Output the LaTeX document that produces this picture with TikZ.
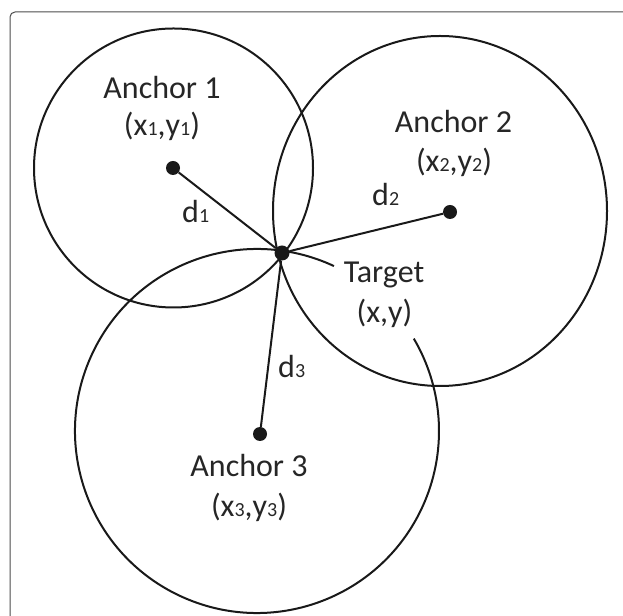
\documentclass[tikz,border=0pt]{standalone}
\usepackage{fontspec}
\setmainfont{Carlito}
\newcommand\lowdig[1]{{\fontsize{20}{20}\selectfont #1}}
\begin{document}
\begin{tikzpicture}[x=1pt,y=1pt,
  ring/.style={line width=2pt, draw=black!90},
  link/.style={line width=2pt, draw=black!90},
  dot/.style={circle, fill=black!90, inner sep=0pt, minimum size=14pt},
  lbl/.style={inner sep=0pt, anchor=base, font=\fontsize{32}{38}\selectfont, text=black!85},
  dlbl/.style={lbl, anchor=base west}]
\useasboundingbox (0,0) rectangle (623,615);
\begin{scope}
  \clip (0,0) rectangle (623,615);
  \draw[draw=black!70, line width=1pt, rounded corners=5pt] (10,-20) rectangle (650,603);
\end{scope}
% circles
\draw[ring] (173.5,447) circle[radius=139.5];
\draw[ring] (440,404) ellipse[x radius=167, y radius=175];
\draw[ring] (257,184) ++(65:182) arc[start angle=65, end angle=390.5, radius=182];
% points
\node[dot] (a1) at (173,447) {};
\node[dot] (a2) at (450,403) {};
\node[dot] (a3) at (260,181) {};
\node[dot, minimum size=15pt] (t) at (282,362) {};
% connectors
\draw[link] (a1) -- (t);
\draw[link] (a2) -- (t);
\draw[link] (a3) -- (t);
% labels
\node[lbl] (l1) at (162,516) {Anchor 1};
\node[lbl] (c1) at (162,479) {(x\lowdig{1},y\lowdig{1})};
\node[dlbl] (d1) at (182,392) {d\lowdig{1}};
\node[lbl] (l2) at (453.5,482) {Anchor 2};
\node[lbl] (c2) at (454,443) {(x\lowdig{2},y\lowdig{2})};
\node[dlbl] (d2) at (372,409) {d\lowdig{2}};
\node[lbl] (lt) at (384,332) {Target};
\node[lbl] (ct) at (384.5,292) {(x,y)};
\node[dlbl] (d3) at (278,237) {d\lowdig{3}};
\node[lbl] (l3) at (249,138) {Anchor 3};
\node[lbl] (c3) at (249,98) {(x\lowdig{3},y\lowdig{3})};
\end{tikzpicture}
\end{document}
